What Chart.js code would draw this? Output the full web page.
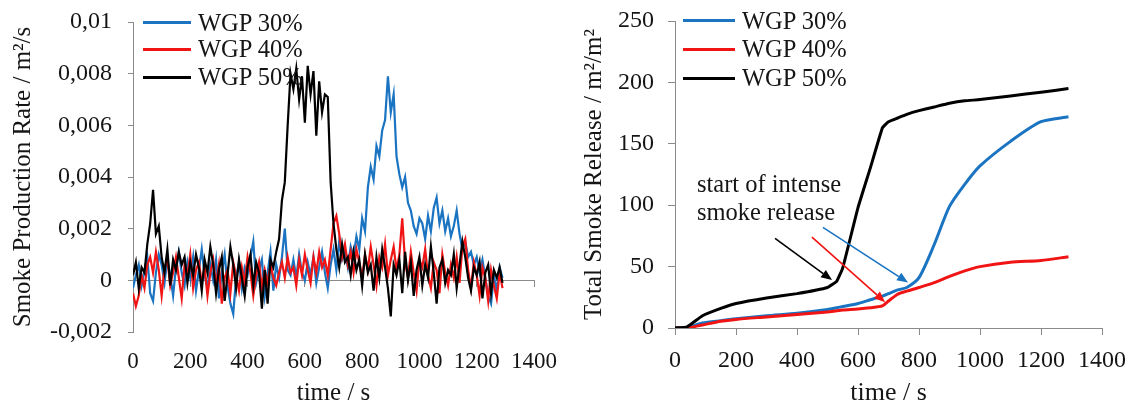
<!DOCTYPE html>
<html>
<head>
<meta charset="utf-8">
<script src="https://cdn.jsdelivr.net/npm/chart.js@4/dist/chart.umd.min.js"></script>
<style>
html,body{margin:0;padding:0;background:#fff;width:1131px;height:404px;overflow:hidden;}
.wrap{position:absolute;top:0;height:404px;}
.legend{position:absolute;left:0;top:0;font-family:"Liberation Serif",serif;font-size:24.5px;color:#151515;}
.row{position:absolute;white-space:nowrap;display:flex;align-items:center;height:28px;}
.sw{display:inline-block;height:3px;margin-right:7px;}
</style>
</head>
<body>
<div class="wrap" style="left:0;width:560px;"><canvas id="cL" width="560" height="404"></canvas><div class="legend" id="legL"></div></div>
<div class="wrap" style="left:560px;width:571px;"><canvas id="cR" width="571" height="404"></canvas><div class="legend" id="legR"></div></div>
<script>
// ---------- DATA ----------
const seriesNames = ['WGP 30%', 'WGP 40%', 'WGP 50%'];
const seriesColors = ['#1a74c2', '#f01414', '#000000'];

// Left chart: smoke production rate (m²/s) vs time (s)
const leftTime = [0,10,20,30,40,50,60,70,80,90,100,110,120,130,140,150,160,170,180,190,200,210,220,230,240,250,260,270,280,290,300,310,320,330,340,350,360,370,380,390,400,410,420,430,440,450,460,470,480,490,500,510,520,530,540,550,560,570,580,590,600,610,620,630,640,650,660,670,680,690,700,710,720,730,740,750,760,770,780,790,800,810,820,830,840,850,860,870,880,890,900,910,920,930,940,950,960,970,980,990,1000,1010,1020,1030,1040,1050,1060,1070,1080,1090,1100,1110,1120,1130,1140,1150,1160,1170,1180,1190,1200,1210,1220,1230,1240,1250,1260,1270,1280,1290];
const rate30 = [-0.0003,0.0002,0.0006,-0.0002,0.0004,0.0009,-0.0005,-0.0008,0.0003,0.0010,
  0.0006,-0.0001,0.0008,0.0002,-0.0006,0.0005,0.0011,0.0003,-0.0002,0.0007,
  0.0001,0.0009,-0.0004,0.0004,0.0012,0.0002,-0.0003,0.0006,0.0000,0.0008,
  -0.0007,0.0003,0.0010,-0.0002,-0.0009,-0.0013,0.0001,0.0007,-0.0003,0.0005,
  0.0002,0.0009,0.0015,-0.0001,0.0004,0.0008,-0.0006,0.0003,0.0011,-0.0004,
  0.0006,0.0001,0.0009,0.0020,0.0004,0.0002,0.0008,0.0001,0.0010,0.0003,
  0.0000,0.0007,0.0002,0.0009,-0.0001,0.0005,0.0011,0.0003,-0.0003,0.0006,
  0.0012,0.0004,0.0015,0.0008,0.0011,0.0005,0.0013,0.0009,0.0017,0.0012,
  0.0024,0.0019,0.0036,0.0044,0.0039,0.0052,0.0048,0.0058,0.0062,0.0079,
  0.0065,0.0072,0.0048,0.0041,0.0036,0.0040,0.0030,0.0027,0.0021,0.0018,
  0.0024,0.0022,0.0016,0.0025,0.0019,0.0028,0.0032,0.0022,0.0027,0.0019,
  0.0024,0.0017,0.0021,0.0027,0.0018,0.0012,0.0015,0.0009,0.0011,0.0006,
  0.0009,0.0003,0.0008,0.0001,-0.0006,-0.0009,0.0002,-0.0004,0.0005,0.0001];
const rate40 = [-0.0005,-0.0010,-0.0006,0.0002,-0.0003,0.0006,0.0009,0.0003,0.0011,0.0004,
  -0.0006,0.0005,0.0008,-0.0002,0.0003,0.0009,0.0001,-0.0007,0.0006,0.0002,
  0.0010,-0.0003,0.0004,0.0007,-0.0001,0.0005,-0.0006,0.0003,0.0008,-0.0002,
  0.0006,-0.0009,0.0001,0.0004,-0.0005,0.0007,0.0002,-0.0004,0.0005,-0.0001,
  0.0009,0.0003,-0.0006,0.0002,0.0007,-0.0003,0.0004,-0.0001,0.0006,0.0001,
  -0.0002,0.0003,0.0007,0.0001,0.0009,0.0003,0.0005,-0.0002,0.0008,0.0002,
  0.0010,0.0004,-0.0001,0.0009,0.0003,0.0011,0.0005,0.0008,0.0002,0.0012,
  0.0022,0.0025,0.0018,0.0009,0.0014,0.0006,0.0011,0.0003,0.0012,0.0007,
  0.0001,0.0010,0.0004,0.0013,0.0006,-0.0002,0.0009,0.0005,0.0014,0.0002,
  0.0008,0.0013,0.0004,0.0010,0.0024,0.0007,0.0001,0.0011,0.0003,-0.0004,
  0.0008,0.0005,0.0012,0.0002,-0.0003,0.0007,0.0004,-0.0005,0.0010,0.0003,
  -0.0002,0.0006,0.0001,0.0009,-0.0001,0.0013,0.0016,0.0004,-0.0003,0.0007,
  0.0002,-0.0006,0.0005,0.0001,-0.0008,0.0004,-0.0002,-0.0007,0.0003,-0.0003];
const rate50 = [0.0002,0.0007,-0.0003,0.0005,0.0003,0.0014,0.0022,0.0035,0.0018,0.0021,
  0.0009,0.0003,0.0012,-0.0002,0.0008,0.0004,0.0011,0.0006,0.0009,-0.0001,
  0.0007,0.0002,0.0010,0.0005,-0.0004,0.0008,0.0003,0.0013,0.0006,-0.0005,
  0.0004,0.0009,-0.0008,0.0002,0.0013,0.0006,-0.0003,0.0008,0.0001,-0.0006,
  0.0005,0.0010,-0.0002,0.0007,0.0003,-0.0011,0.0004,-0.0009,0.0008,0.0005,
  0.0011,0.0016,0.0031,0.0038,0.0060,0.0080,0.0074,0.0082,0.0070,0.0079,
  0.0061,0.0083,0.0072,0.0081,0.0056,0.0077,0.0065,0.0072,0.0071,0.0038,
  0.0022,0.0012,0.0005,0.0014,0.0007,0.0009,0.0002,0.0011,0.0004,0.0008,
  -0.0002,0.0010,0.0003,0.0006,-0.0004,0.0009,0.0001,0.0012,0.0005,-0.0003,
  -0.0014,0.0006,0.0002,0.0008,-0.0005,0.0011,0.0000,0.0007,-0.0006,0.0004,
  0.0009,-0.0002,0.0006,0.0001,0.0013,0.0003,-0.0009,0.0005,0.0008,-0.0001,
  0.0004,0.0002,0.0010,-0.0003,0.0006,0.0015,0.0009,0.0001,-0.0004,0.0005,
  0.0002,0.0007,-0.0007,0.0003,0.0006,-0.0005,0.0004,0.0001,0.0005,-0.0001];
const leftYTicks = [-0.002, 0, 0.002, 0.004, 0.006, 0.008, 0.01];
const leftYTickLabels = ['-0,002', '0', '0,002', '0,004', '0,006', '0,008', '0,01'];

// Right chart: total smoke release (m²/m²) vs time (s)
const rightTime = [0,40,90,150,200,300,400,500,530,550,600,640,680,700,730,760,800,850,900,950,1000,1100,1200,1290];
const total30 = [0,0.5,4,6,7.5,10,12,15,16.5,17.5,20,23,26,28,31,33,41,68,99,117,132,152,168,172];
const total40 = [0,0,2.5,5.5,7,9,11,13,14,14.6,15.5,16.5,18,22,27.5,30,33,37,42,46.5,50,53.5,55,58];
const total50 = [0,1,10,16,20,24.5,28,33,38,49,98,130,163,168,171,174,177,180,183,185,186,189,192,195];
const rightYTicks = [0, 50, 100, 150, 200, 250];

const xTicks = [0, 200, 400, 600, 800, 1000, 1200, 1400];
const xTickLabels = ['0', '200', '400', '600', '800', '1000', '1200', '1400'];

// Annotation (right chart), in data units
const annotationLines = ['start of intense', 'smoke release'];
const annotationT = [72, 72];
const annotationV = [116, 93.5];
const arrowFromT = [328, 485, 449];
const arrowFromV = [73, 82, 74];
const arrowToT = [515, 764, 689];
const arrowToV = [39, 37, 21];
const arrowSeries = [2, 0, 1];

// ---------- RENDER ----------
const FONT = 'Liberation Serif';
const TXT = '#151515';
const AX = '#8a8a8a';

function pts(xs, ys) { return xs.map((x, i) => ({x: x, y: ys[i]})); }

function buildLegend(id, left, centers, lineW) {
  const el = document.getElementById(id);
  seriesNames.forEach((n, i) => {
    const r = document.createElement('div');
    r.className = 'row';
    r.style.left = left + 'px';
    r.style.top = (centers[i] - 14) + 'px';
    const s = document.createElement('span');
    s.className = 'sw';
    s.style.width = lineW + 'px';
    s.style.background = seriesColors[i];
    r.appendChild(s);
    r.appendChild(document.createTextNode(n));
    el.appendChild(r);
  });
}
buildLegend('legL', 143, [22.7, 49.3, 77.3], 48);
buildLegend('legR', 123, [20.7, 49.3, 78.3], 52);

const xTickCb = (v, i) => xTickLabels[i];
const setXTicks = s => { s.ticks = xTicks.map(v => ({value: v})); };
const noPad = s => { s.paddingLeft = 0; s.paddingRight = 0; s.paddingTop = 0; s.paddingBottom = 0; };

new Chart(document.getElementById('cL'), {
  type: 'line',
  data: {
    datasets: [
      {label: seriesNames[0], data: pts(leftTime, rate30), borderColor: seriesColors[0], borderWidth: 2.2, pointRadius: 0, tension: 0, order: 3},
      {label: seriesNames[1], data: pts(leftTime, rate40), borderColor: seriesColors[1], borderWidth: 2.2, pointRadius: 0, tension: 0, order: 2},
      {label: seriesNames[2], data: pts(leftTime, rate50), borderColor: seriesColors[2], borderWidth: 2.2, pointRadius: 0, tension: 0, order: 1}
    ]
  },
  options: {
    responsive: false, animation: false, events: [],
    layout: {padding: {top: 22, right: 26, left: 0, bottom: 0}},
    plugins: {legend: {display: false}, tooltip: {enabled: false}},
    scales: {
      x: {
        type: 'linear', position: 'bottom', min: 0, max: 1400,
        afterBuildTicks: setXTicks,
        ticks: {padding: 16, color: TXT, font: {family: FONT, size: 23}, callback: xTickCb, maxRotation: 0, autoSkip: false},
        grid: {display: false, drawTicks: false},
        border: {display: false},
        title: {display: true, text: 'time / s', color: TXT, font: {family: FONT, size: 25, lineHeight: 0.85}, padding: {top: 0, bottom: 0}},
        afterFit: s => { s.height = 72; noPad(s); }
      },
      xZero: {
        type: 'linear', axis: 'x', position: {y: 0}, min: 0, max: 1400,
        afterBuildTicks: setXTicks,
        ticks: {display: false},
        grid: {drawOnChartArea: false, drawTicks: true, tickLength: 6, color: AX},
        border: {display: true, color: AX, width: 1},
        afterFit: noPad
      },
      y: {
        type: 'linear', position: 'left', min: -0.002, max: 0.01,
        afterBuildTicks: s => { s.ticks = leftYTicks.map(v => ({value: v})); },
        ticks: {padding: 16, color: TXT, font: {family: FONT, size: 24}, callback: (v, i) => leftYTickLabels[i]},
        grid: {drawOnChartArea: false, drawTicks: true, tickLength: 5, color: AX},
        border: {display: true, color: AX, width: 1},
        title: {display: true, text: 'Smoke Production Rate / m²/s', color: TXT, font: {family: FONT, size: 25, lineHeight: 1.2}, padding: {top: 8, bottom: 0}},
        afterFit: s => { s.width = 133; noPad(s); }
      }
    }
  }
});

const annotationPlugin = {
  id: 'annot',
  afterDatasetsDraw(chart) {
    const ctx = chart.ctx, xs = chart.scales.x, ys = chart.scales.y;
    ctx.save();
    ctx.font = '24.5px "' + FONT + '"';
    ctx.fillStyle = TXT;
    ctx.textAlign = 'left';
    ctx.textBaseline = 'middle';
    annotationLines.forEach((t, i) => ctx.fillText(t, xs.getPixelForValue(annotationT[i]), ys.getPixelForValue(annotationV[i])));
    arrowFromT.forEach((t, i) => {
      const x1 = xs.getPixelForValue(t), y1 = ys.getPixelForValue(arrowFromV[i]);
      const x2 = xs.getPixelForValue(arrowToT[i]), y2 = ys.getPixelForValue(arrowToV[i]);
      const col = seriesColors[arrowSeries[i]];
      const a = Math.atan2(y2 - y1, x2 - x1);
      const hl = 11, hw = 4.5;
      const bx = x2 - hl * Math.cos(a), by = y2 - hl * Math.sin(a);
      ctx.strokeStyle = col; ctx.fillStyle = col; ctx.lineWidth = 1.6;
      ctx.beginPath(); ctx.moveTo(x1, y1); ctx.lineTo(bx, by); ctx.stroke();
      ctx.beginPath();
      ctx.moveTo(x2, y2);
      ctx.lineTo(bx + hw * Math.sin(a), by - hw * Math.cos(a));
      ctx.lineTo(bx - hw * Math.sin(a), by + hw * Math.cos(a));
      ctx.closePath(); ctx.fill();
    });
    ctx.restore();
  }
};

new Chart(document.getElementById('cR'), {
  type: 'line',
  data: {
    datasets: [
      {label: seriesNames[0], data: pts(rightTime, total30), borderColor: seriesColors[0], borderWidth: 3, pointRadius: 0, tension: 0.25, order: 3},
      {label: seriesNames[1], data: pts(rightTime, total40), borderColor: seriesColors[1], borderWidth: 3, pointRadius: 0, tension: 0.25, order: 2},
      {label: seriesNames[2], data: pts(rightTime, total50), borderColor: seriesColors[2], borderWidth: 3, pointRadius: 0, tension: 0.1, order: 1}
    ]
  },
  options: {
    responsive: false, animation: false, events: [],
    layout: {padding: {top: 21, right: 29, left: 0, bottom: 0}},
    plugins: {legend: {display: false}, tooltip: {enabled: false}},
    scales: {
      x: {
        type: 'linear', position: 'bottom', min: 0, max: 1400,
        afterBuildTicks: setXTicks,
        ticks: {padding: 11, color: TXT, font: {family: FONT, size: 24}, callback: xTickCb, maxRotation: 0, autoSkip: false},
        grid: {drawOnChartArea: false, drawTicks: true, tickLength: 7, color: AX},
        border: {display: true, color: AX, width: 1},
        title: {display: true, text: 'time / s', color: TXT, font: {family: FONT, size: 26, lineHeight: 0.85}, padding: {top: 0, bottom: 0}},
        afterFit: s => { s.height = 76; noPad(s); }
      },
      y: {
        type: 'linear', position: 'left', min: 0, max: 250,
        afterBuildTicks: s => { s.ticks = rightYTicks.map(v => ({value: v})); },
        ticks: {padding: 14, color: TXT, font: {family: FONT, size: 24}},
        grid: {drawOnChartArea: false, drawTicks: true, tickLength: 7, color: AX},
        border: {display: true, color: AX, width: 1},
        title: {display: true, text: 'Total Smoke Release / m²/m²', color: TXT, font: {family: FONT, size: 25, lineHeight: 1.2}, padding: {top: 19, bottom: 0}},
        afterFit: s => { s.width = 115; noPad(s); }
      }
    }
  },
  plugins: [annotationPlugin]
});
</script>
</body>
</html>
